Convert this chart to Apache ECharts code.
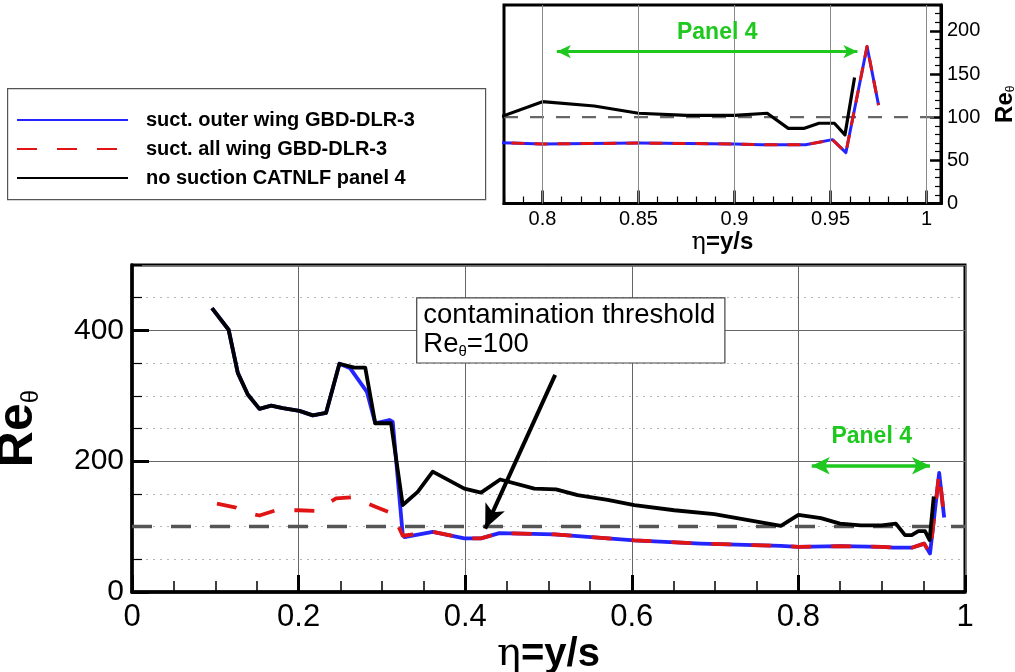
<!DOCTYPE html>
<html>
<head>
<meta charset="utf-8">
<script src="https://cdn.jsdelivr.net/npm/echarts@6/dist/echarts.min.js"></script>
<style>
  html, body { margin: 0; padding: 0; background: #fff; }
  #chart { width: 1015px; height: 672px; }
</style>
</head>
<body>
<div id="chart"></div>
<script>
// values: [eta, Re_theta]
const outerWing = [
  [0.096, 434], [0.116, 401], [0.127, 335], [0.139, 302], [0.153, 280], [0.167, 285],
  [0.181, 281], [0.201, 277], [0.217, 270], [0.233, 274], [0.249, 349], [0.262, 342],
  [0.282, 306], [0.292, 258], [0.309, 263], [0.313, 260], [0.325, 88], [0.327, 84],
  [0.361, 92], [0.399, 82], [0.419, 82], [0.441, 90], [0.507, 88], [0.603, 79],
  [0.683, 74], [0.779, 70.5], [0.80, 69], [0.85, 70], [0.90, 69], [0.914, 68],
  [0.937, 68], [0.951, 74], [0.958, 59], [0.969, 182], [0.975, 114]
];
const allWing = [
  [0.102, 135], [0.125, 129], [0.139, 121], [0.153, 117], [0.173, 125], [0.200, 125],
  [0.220, 124], [0.245, 143], [0.265, 145], [0.293, 130], [0.313, 120], [0.325, 86],
  [0.327, 83], [0.361, 92], [0.399, 82], [0.419, 82], [0.441, 90], [0.507, 88],
  [0.603, 79], [0.683, 74], [0.779, 70.5], [0.80, 69], [0.85, 70], [0.90, 69],
  [0.914, 68], [0.937, 68], [0.951, 74], [0.958, 59], [0.969, 182], [0.975, 114]
];
const noSuction = [
  [0.096, 434], [0.116, 401], [0.127, 335], [0.139, 302], [0.153, 280], [0.167, 285],
  [0.181, 281], [0.201, 277], [0.217, 270], [0.233, 274], [0.249, 349], [0.267, 343],
  [0.280, 343], [0.292, 258], [0.311, 258], [0.325, 133], [0.343, 153], [0.361, 184],
  [0.399, 158], [0.419, 152], [0.442, 172], [0.483, 158], [0.509, 157], [0.535, 148],
  [0.571, 141], [0.603, 133], [0.651, 125], [0.699, 119], [0.779, 101], [0.80, 118],
  [0.827, 113], [0.85, 104.6], [0.875, 102], [0.90, 102], [0.917, 104.6], [0.928, 87],
  [0.936, 87], [0.944, 93], [0.952, 93], [0.9575, 79.5], [0.9625, 146]
];
const seriesNames = ['suct. outer wing GBD-DLR-3', 'suct. all wing GBD-DLR-3', 'no suction CATNLF panel 4'];
const threshold = 100;
const mainRange = [0, 1];
const insetRange = [0.78, 1.0075];
const insetMajorX = [0.8, 0.85, 0.9, 0.95, 1];

// annotations, in data units
const contaminationArrow = [[0.508, 332], [0.424, 97]];
const contaminationBox = [0.3425, 400];
const panelArrowMain = [[0.816, 193], [0.958, 193]];
const panelTextMain = [0.888, 237];
const panelArrowInset = [[0.8075, 176], [0.964, 176]];
const panelTextInset = [0.891, 197.5];

const SANS = 'Liberation Sans, Arial, sans-serif';
const SERIF = 'DejaVu Serif, Liberation Serif, serif';
const BLUE = '#2424ff', RED = '#e01414', GREEN = '#1ec81e';

function curve(name, data, color, width, dash, inset) {
  return {
    name: name, type: 'line', data: data,
    xAxisIndex: inset ? 1 : 0, yAxisIndex: inset ? 2 : 0,
    showSymbol: false, symbol: 'none', silent: true, clip: true, z: 3,
    lineStyle: { color: color, width: width, type: dash || 'solid', join: 'round' },
    itemStyle: { color: color }
  };
}

const blueMain = curve(seriesNames[0], outerWing, BLUE, 3.8, null, false);
const redMain = curve(seriesNames[1], allWing, RED, 3.8, [20, 20], false);
const blackMain = curve(seriesNames[2], noSuction, '#000', 3.8, null, false);
const blueInset = curve(seriesNames[0], outerWing, BLUE, 3, null, true);
const redInset = curve(seriesNames[1], allWing, RED, 3, [13, 10], true);
const blackInset = curve(seriesNames[2], noSuction, '#000', 3.2, null, true);

blackMain.markLine = {
  silent: true, animation: false, label: { show: false },
  symbol: ['none', 'arrow'], symbolSize: [16, 24],
  data: [
    [{ coord: contaminationArrow[0], lineStyle: { color: '#000', width: 4, type: 'solid' } },
     { coord: contaminationArrow[1] }],
    [{ coord: panelArrowMain[0], symbol: 'arrow', symbolSize: [13, 18], lineStyle: { color: GREEN, width: 3.5, type: 'solid' } },
     { coord: panelArrowMain[1], symbol: 'arrow', symbolSize: [13, 18] }]
  ]
};
blackMain.markPoint = {
  silent: true, animation: false, symbol: 'rect', symbolSize: 1,
  itemStyle: { color: 'rgba(0,0,0,0)' },
  data: [
    { coord: panelTextMain, label: { show: true, position: 'inside', formatter: 'Panel 4',
      color: GREEN, fontSize: 23, fontWeight: 'bold', fontFamily: SANS } },
    { coord: contaminationBox, label: { show: true, position: 'inside', align: 'left', verticalAlign: 'middle',
      formatter: '{t|contamination threshold}\n{t|Re}{s|θ}{t|=100}',
      backgroundColor: '#fff', borderColor: '#444', borderWidth: 1.2, padding: [3, 9, 3, 6],
      rich: {
        t: { fontSize: 27.5, lineHeight: 29, color: '#000', fontFamily: SANS },
        s: { fontSize: 15, lineHeight: 29, color: '#000', fontFamily: SANS, verticalAlign: 'bottom' }
      } } }
  ]
};
blackInset.markLine = {
  silent: true, animation: false, label: { show: false },
  symbol: ['arrow', 'arrow'], symbolSize: [10, 14],
  data: [
    [{ coord: panelArrowInset[0], lineStyle: { color: GREEN, width: 3, type: 'solid' } },
     { coord: panelArrowInset[1] }]
  ]
};
blackInset.markPoint = {
  silent: true, animation: false, symbol: 'rect', symbolSize: 1,
  itemStyle: { color: 'rgba(0,0,0,0)' },
  data: [
    { coord: panelTextInset, label: { show: true, position: 'inside', formatter: 'Panel 4',
      color: GREEN, fontSize: 23, fontWeight: 'bold', fontFamily: SANS } }
  ]
};

const thresholdMain = {
  type: 'line', xAxisIndex: 0, yAxisIndex: 0, silent: true, symbol: 'none', z: 1,
  data: mainRange.map(function (x) { return [x, threshold]; }),
  lineStyle: { color: '#555', width: 3.5, type: [20, 19] }
};
const thresholdInset = {
  type: 'line', xAxisIndex: 1, yAxisIndex: 2, silent: true, symbol: 'none', z: 1,
  data: insetRange.map(function (x) { return [x, threshold]; }),
  lineStyle: { color: '#666', width: 2.2, type: [14, 12] },
  markLine: {
    silent: true, animation: false, symbol: 'none', label: { show: false },
    lineStyle: { color: '#8a8a8a', width: 1, type: 'solid' },
    data: insetMajorX.map(function (v) { return { xAxis: v }; })
  }
};

const reName = function (big, small) {
  return {
    r: { fontSize: big, fontWeight: 'bold', fontFamily: SANS, color: '#000' },
    s: { fontSize: small, fontFamily: SANS, color: '#000', verticalAlign: 'bottom' }
  };
};
const etaName = function (size) {
  return {
    e: { fontSize: size, fontFamily: SERIF, color: '#000' },
    b: { fontSize: size, fontWeight: 'bold', fontFamily: SANS, color: '#000' }
  };
};

const chart = echarts.init(document.getElementById('chart'));
chart.setOption({
  animation: false,
  backgroundColor: '#fff',
  legend: {
    orient: 'vertical', left: 16, top: 108, itemWidth: 111, itemHeight: 12, itemGap: 5,
    padding: 0, selectedMode: false, data: seriesNames,
    itemStyle: { opacity: 0 },
    textStyle: { fontFamily: SANS, fontSize: 20, fontWeight: 'bold', color: '#000', lineHeight: 24, padding: [0, 0, 0, 13] }
  },
  graphic: [{
    type: 'rect', left: 7, top: 88, z: 0,
    shape: { width: 478, height: 111 },
    style: { fill: '#fff', stroke: '#555', lineWidth: 1.2 }
  }],
  grid: [
    { left: 132, right: 50, top: 265, bottom: 80, show: true, borderColor: '#000', borderWidth: 3, outerBoundsMode: 'none' },
    { left: 504, right: 74, top: 5, bottom: 468.5, show: true, borderColor: '#000', borderWidth: 3, outerBoundsMode: 'none' }
  ],
  xAxis: [
    {
      gridIndex: 0, type: 'value', min: mainRange[0], max: mainRange[1], interval: 0.2,
      axisLine: { lineStyle: { color: '#000', width: 3.5 } },
      axisTick: { inside: true, length: 17, lineStyle: { color: '#000', width: 3 } },
      minorTick: { show: true, splitNumber: 4, length: 11, lineStyle: { color: '#000', width: 1.5 } },
      splitLine: { show: true, lineStyle: { color: '#666', width: 1 } },
      axisLabel: { fontSize: 31, color: '#000', margin: 10, fontFamily: SANS },
      name: '{e|η}{b|=y/s}', nameLocation: 'middle', nameGap: 43,
      nameTextStyle: { rich: etaName(40) }
    },
    {
      gridIndex: 1, type: 'value', min: insetRange[0], max: insetRange[1], interval: 0.01,
      axisLine: { lineStyle: { color: '#000', width: 3 } },
      axisTick: { inside: true, length: 7, lineStyle: { color: '#000', width: 1.2 } },
      splitLine: { show: false },
      axisLabel: {
        fontSize: 20, color: '#000', margin: 6, fontFamily: SANS,
        formatter: function (v) {
          const r = Math.round(v * 100);
          return r % 5 === 0 ? String(r / 100) : '';
        }
      },
      name: '{e|η}{b|=y/s}', nameLocation: 'middle', nameGap: 27,
      nameTextStyle: { rich: etaName(24) }
    },
    {
      gridIndex: 1, type: 'value', min: insetRange[0], max: insetRange[1], position: 'bottom', offset: 0,
      axisLine: { show: false },
      axisTick: { inside: true, length: 13, customValues: insetMajorX, lineStyle: { color: '#000', width: 2.5 } },
      axisLabel: { show: false }, splitLine: { show: false }
    }
  ],
  yAxis: [
    {
      gridIndex: 0, type: 'value', min: 0, max: 500, interval: 50, position: 'left', offset: 0,
      axisLine: { show: true, lineStyle: { color: '#000', width: 3.5 } },
      axisTick: { inside: true, length: 10, lineStyle: { color: '#000', width: 1.2 } },
      axisLabel: { show: false },
      splitLine: { show: true, lineStyle: { color: '#b4b4b4', width: 1, type: [2, 5] } }
    },
    {
      gridIndex: 0, type: 'value', min: 0, max: 500, interval: 200, position: 'left', offset: 0,
      axisLine: { show: false },
      axisTick: { inside: true, length: 17, lineStyle: { color: '#000', width: 3 } },
      axisLabel: { fontSize: 30, color: '#000', margin: 8, fontFamily: SANS, showMaxLabel: false },
      splitLine: { show: true, lineStyle: { color: '#666', width: 1 } },
      name: '{r|Re}{s|θ}', nameLocation: 'middle', nameRotate: 90, nameGap: 89,
      nameTextStyle: { rich: reName(50, 24) }
    },
    {
      gridIndex: 1, type: 'value', min: 0, max: 230, interval: 10, position: 'right', offset: 0,
      axisLine: { show: true, lineStyle: { color: '#000', width: 3 } },
      axisTick: { inside: true, length: 6, lineStyle: { color: '#000', width: 1.2 } },
      axisLabel: { show: false }, splitLine: { show: false }
    },
    {
      gridIndex: 1, type: 'value', min: 0, max: 230, interval: 50, position: 'right', offset: 0,
      axisLine: { show: false },
      axisTick: { inside: true, length: 11, lineStyle: { color: '#000', width: 2.5 } },
      axisLabel: { fontSize: 20, color: '#000', margin: 6, fontFamily: SANS, showMaxLabel: false },
      splitLine: { show: false },
      name: '{r|Re}{s|θ}', nameLocation: 'middle', nameRotate: 90, nameGap: 52,
      nameTextStyle: { rich: reName(24, 12) }
    }
  ],
  series: [thresholdMain, thresholdInset, blueMain, redMain, blackMain, blueInset, redInset, blackInset]
});
</script>
</body>
</html>
